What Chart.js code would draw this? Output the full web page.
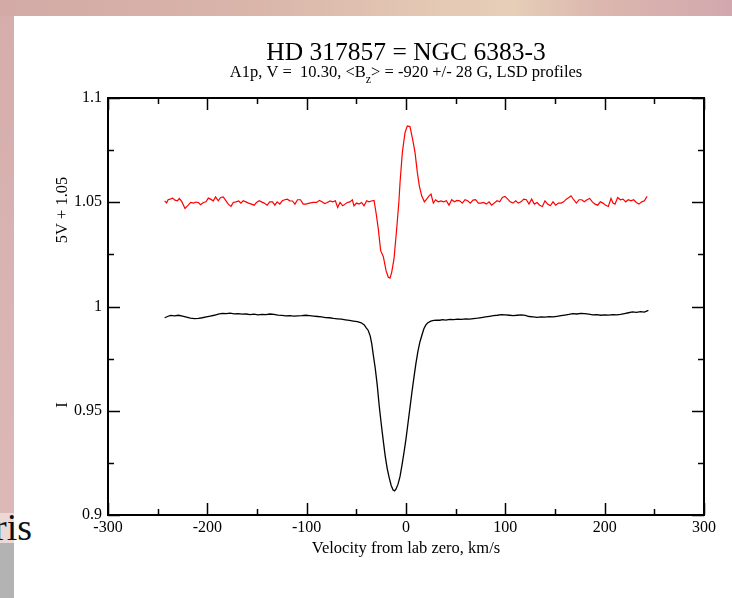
<!DOCTYPE html>
<html><head><meta charset="utf-8">
<script src="https://cdn.jsdelivr.net/npm/chart.js@4.4.0/dist/chart.umd.min.js"></script>
<style>
html,body{margin:0;padding:0;width:732px;height:598px;overflow:hidden;}
body{position:relative;background:linear-gradient(to bottom,#d5adab 0,#d9b4b2 300px,#dcb8b6 513px,#ead9d7 513px,#ead9d7 543px,#b3b3b3 543px,#b3b3b3 598px);}
#top{position:absolute;left:0;top:0;width:732px;height:16px;background:linear-gradient(to right,#d3aaa6 0%,#d9b5aa 35%,#e4c9b4 60%,#e6ceb8 70%,#dbb7ae 82%,#d2a8ae 100%);}
#risbox{position:absolute;left:0;top:505px;width:35px;height:44px;overflow:hidden;}
#ris{position:absolute;left:-6px;top:0;font-family:"Liberation Serif",serif;font-size:38px;color:#111;line-height:44px;}
#white{position:absolute;left:14px;top:16px;right:0;bottom:0;background:#fff;}
canvas{position:absolute;left:0;top:0;}
</style></head>
<body>
<div id="top"></div>
<div id="white"></div>
<div id="risbox"><div id="ris">ris</div></div>
<canvas id="c" width="732" height="598"></canvas>
<script>
// ---- data ----
const title = "HD 317857 = NGC 6383-3";
const subtitleA = "A1p, V =  10.30, <B";
const subtitleSub = "z";
const subtitleB = "> = -920 +/- 28 G, LSD profiles";
const xTitle = "Velocity from lab zero, km/s";
const yTitleTop = "5V + 1.05";
const yTitleBottom = "I";

const redVel = [-243,-241,-239.5,-237.6,-234.9,-232.6,-230.2,-228.2,-225.8,-222.5,-219.2,-216.8,-214.1,-211.5,-209.1,-206.8,-204.0,-201.4,-199.0,-196.7,-194.0,-191.7,-189.0,-186.6,-184.0,-181.2,-178.9,-176.2,-173.9,-171.2,-168.5,-166.2,-163.9,-161.2,-158.5,-155.5,-152.8,-150.5,-147.8,-145.5,-142.8,-139.8,-137.1,-134.4,-132.0,-129.7,-127.0,-124.6,-122.0,-119.6,-116.9,-114.3,-111.8,-109.2,-106.2,-103.5,-100.7,-97.3,-93.3,-90.0,-87.2,-84.6,-81.9,-79.2,-76.5,-73.8,-71.1,-68.8,-66.4,-63.7,-61.4,-59.1,-56.4,-54.0,-52.4,-49.7,-47.3,-44.6,-42.3,-39.6,-37.2,-34.9,-32.2,-30.2,-27.9,-25.5,-22.8,-20.1,-17.8,-16.1,-14.4,-12.1,-9.4,-7.2,-6.0,-3.7,-1.0,1.3,4.0,6.7,9.1,11.4,13.4,15.8,18.5,20.8,23.2,25.2,27.5,29.8,32.5,35.2,37.9,40.6,43.3,46.0,48.7,51.3,54.0,56.7,59.4,62.1,64.8,67.4,70.1,72.8,75.5,78.2,80.9,83.6,86.2,88.9,91.6,94.3,97.0,99.7,102.4,105.0,107.7,110.4,113.1,115.8,118.5,121.2,123.8,126.5,129.2,131.9,134.6,137.3,139.9,142.6,145.3,148.0,150.7,153.4,156.1,158.7,161.4,164.1,166.1,168.8,171.5,174.2,176.9,179.5,182.2,184.9,187.6,190.3,193.0,195.6,198.3,201.0,203.7,206.4,208.4,210.4,213.1,215.8,218.5,221.2,223.8,226.5,229.2,231.9,234.6,237.3,240.0,242.7];
const redVal = [1.0507,1.0497,1.0512,1.0515,1.0520,1.0510,1.0507,1.0518,1.0504,1.0470,1.0486,1.0499,1.0496,1.0501,1.0499,1.0488,1.0499,1.0502,1.0520,1.0515,1.0507,1.0526,1.0507,1.0523,1.0526,1.0507,1.0491,1.0480,1.0499,1.0502,1.0506,1.0496,1.0507,1.0502,1.0496,1.0491,1.0486,1.0499,1.0507,1.0502,1.0496,1.0486,1.0502,1.0502,1.0486,1.0502,1.0491,1.0507,1.0512,1.0515,1.0507,1.0506,1.0491,1.0512,1.0512,1.0491,1.0491,1.0496,1.0499,1.0499,1.0509,1.0502,1.0494,1.0499,1.0506,1.0502,1.0507,1.0475,1.0499,1.0483,1.0491,1.0499,1.0502,1.0512,1.0483,1.0496,1.0491,1.0499,1.0483,1.0507,1.0502,1.0506,1.0509,1.0451,1.0372,1.0268,1.0239,1.0172,1.0140,1.0136,1.0164,1.0228,1.0372,1.0500,1.0595,1.0738,1.0834,1.0866,1.0863,1.0802,1.0738,1.0643,1.0579,1.0531,1.0502,1.0515,1.0531,1.0539,1.0496,1.0512,1.0502,1.0506,1.0502,1.0507,1.0486,1.0512,1.0502,1.0509,1.0507,1.0496,1.0512,1.0507,1.0496,1.0510,1.0512,1.0496,1.0496,1.0499,1.0491,1.0502,1.0486,1.0496,1.0507,1.0502,1.0523,1.0528,1.0515,1.0502,1.0496,1.0507,1.0496,1.0502,1.0515,1.0512,1.0491,1.0515,1.0491,1.0499,1.0486,1.0480,1.0507,1.0491,1.0483,1.0502,1.0486,1.0496,1.0496,1.0502,1.0515,1.0523,1.0531,1.0512,1.0496,1.0512,1.0512,1.0502,1.0512,1.0518,1.0502,1.0491,1.0486,1.0502,1.0496,1.0486,1.0480,1.0518,1.0496,1.0491,1.0523,1.0512,1.0515,1.0502,1.0512,1.0507,1.0512,1.0499,1.0491,1.0502,1.0507,1.0528];

const blackVel = [-243,-240,-237,-233,-229,-225,-221,-217,-213,-209,-205,-201,-197,-193,-189,-185,-181,-177,-173,-169,-165,-161,-157,-153,-149,-145,-141,-137,-133,-129,-125,-121,-117,-113,-109,-105,-101,-97,-93,-89,-85,-81,-77,-73,-69,-65,-61,-57,-53,-49,-45,-42,-40,-38,-36,-34.5,-33,-31,-29,-27,-25,-23,-21,-19,-17,-15,-13,-11.5,-10,-8,-6,-4,-2,0,2,4,6,8,10,12,14,16,18,20,22,25,28,31,34,37,40,44,48,52,56,60,64,68,72,76,80,84,88,92,96,100,104,108,112,116,120,124,128,132,136,140,144,148,152,156,160,164,168,172,176,180,184,188,192,196,200,204,208,212,216,220,224,228,232,236,240,244];
const blackVal = [0.9946,0.9952,0.9957,0.9955,0.9958,0.9954,0.9949,0.9944,0.9942,0.9943,0.9946,0.9950,0.9954,0.9958,0.9963,0.9967,0.9966,0.9968,0.9965,0.9966,0.9963,0.9964,0.9961,0.9963,0.9960,0.9962,0.9961,0.9964,0.9962,0.9959,0.9957,0.9955,0.9956,0.9954,0.9955,0.9956,0.9958,0.9956,0.9954,0.9952,0.9950,0.9947,0.9946,0.9943,0.9941,0.9939,0.9936,0.9933,0.9930,0.9927,0.9922,0.9912,0.9898,0.9885,0.9858,0.9822,0.9770,0.9705,0.9625,0.9525,0.9440,0.9360,0.9285,0.9225,0.9180,0.9143,0.9120,0.9116,0.9125,0.9148,0.9185,0.9240,0.9300,0.9365,0.9440,0.9515,0.9590,0.9660,0.9727,0.9785,0.9830,0.9862,0.9893,0.9912,0.9922,0.9930,0.9933,0.9935,0.9934,0.9937,0.9935,0.9938,0.9937,0.9939,0.9938,0.9941,0.9939,0.9942,0.9944,0.9947,0.9950,0.9953,0.9956,0.9958,0.9961,0.9960,0.9958,0.9956,0.9958,0.9960,0.9957,0.9952,0.9950,0.9948,0.9950,0.9949,0.9951,0.9950,0.9953,0.9956,0.9959,0.9962,0.9966,0.9964,0.9967,0.9966,0.9963,0.9960,0.9961,0.9958,0.9960,0.9959,0.9961,0.9960,0.9962,0.9966,0.9970,0.9974,0.9972,0.9975,0.9973,0.9981];

const xMin = -300, xMax = 300, xStep = 100;
const yMin = 0.9, yMax = 1.1, yStep = 0.05;

const serif = '"Liberation Serif", "Times New Roman", serif';

const decor = {
  id: 'decor',
  afterDraw(chart) {
    const {ctx, chartArea: a, scales: {x, y}} = chart;
    ctx.save();
    ctx.strokeStyle = '#000';
    ctx.lineWidth = 1.5;
    const line = (x1, y1, x2, y2) => { ctx.beginPath(); ctx.moveTo(x1, y1); ctx.lineTo(x2, y2); ctx.stroke(); };
    const xv = x.ticks.map(t => t.value);
    const yv = y.ticks.map(t => t.value);
    const MAJ = 12, MIN = 6;
    xv.forEach((v, i) => {
      const p = Math.round(x.getPixelForValue(v)) + 0.5;
      line(p, a.bottom, p, a.bottom - MAJ);
      line(p, a.top, p, a.top + MAJ);
      if (i < xv.length - 1) {
        const m = Math.round(x.getPixelForValue((v + xv[i + 1]) / 2)) + 0.5;
        line(m, a.bottom, m, a.bottom - MIN);
        line(m, a.top, m, a.top + MIN);
      }
    });
    yv.forEach((v, i) => {
      const p = Math.round(y.getPixelForValue(v)) + 0.5;
      line(a.left, p, a.left + MAJ, p);
      line(a.right, p, a.right - MAJ, p);
      if (i < yv.length - 1) {
        const m = Math.round(y.getPixelForValue((v + yv[i + 1]) / 2)) + 0.5;
        line(a.left, m, a.left + MIN, m);
        line(a.right, m, a.right - MIN, m);
      }
    });
    ctx.lineWidth = 2;
    ctx.strokeRect(a.left, a.top, a.right - a.left, a.bottom - a.top);

    ctx.fillStyle = '#000';
    const cx = (a.left + a.right) / 2;
    ctx.textBaseline = 'alphabetic';
    ctx.textAlign = 'center';
    ctx.font = '25.5px ' + serif;
    ctx.fillText(title, cx, 60);
    // subtitle with subscript
    ctx.textAlign = 'left';
    ctx.font = '16.5px ' + serif;
    const w1 = ctx.measureText(subtitleA).width;
    const w3 = ctx.measureText(subtitleB).width;
    ctx.font = '12px ' + serif;
    const w2 = ctx.measureText(subtitleSub).width;
    let sx = cx - (w1 + w2 + w3) / 2;
    ctx.font = '16.5px ' + serif;
    ctx.fillText(subtitleA, sx, 77);
    ctx.font = '12px ' + serif;
    ctx.fillText(subtitleSub, sx + w1, 83);
    ctx.font = '16.5px ' + serif;
    ctx.fillText(subtitleB, sx + w1 + w2, 77);

    ctx.textAlign = 'center';
    ctx.font = '16.5px ' + serif;
    ctx.fillText(xTitle, cx, 553);

    ctx.save();
    ctx.translate(67, 210);
    ctx.rotate(-Math.PI / 2);
    ctx.fillText(yTitleTop, 0, 0);
    ctx.restore();
    ctx.save();
    ctx.translate(67, 405);
    ctx.rotate(-Math.PI / 2);
    ctx.fillText(yTitleBottom, 0, 0);
    ctx.restore();
    ctx.restore();
  }
};

const toPts = (xs, ys) => xs.map((v, i) => ({x: v, y: ys[i]}));

new Chart(document.getElementById('c'), {
  type: 'line',
  data: {
    datasets: [
      {label: '5V + 1.05', data: toPts(redVel, redVal), borderColor: '#ff0000', borderWidth: 1.2, pointRadius: 0, tension: 0, fill: false},
      {label: 'I', data: toPts(blackVel, blackVal), borderColor: '#000000', borderWidth: 1.3, pointRadius: 0, tension: 0, fill: false}
    ]
  },
  options: {
    responsive: false,
    animation: false,
    layout: {padding: {left: 0, top: 98, right: 28, bottom: 0}},
    plugins: {legend: {display: false}, tooltip: {enabled: false}},
    scales: {
      x: {
        type: 'linear', min: xMin, max: xMax,
        ticks: {stepSize: xStep, color: '#000', font: {family: serif, size: 16}, padding: 3, maxRotation: 0},
        grid: {display: false, drawTicks: false},
        border: {display: false},
        afterFit: s => { s.height = 83; }
      },
      y: {
        type: 'linear', min: yMin, max: yMax,
        ticks: {stepSize: yStep, color: '#000', font: {family: serif, size: 16}, padding: 6,
          callback: v => String(+v.toFixed(3))},
        grid: {display: false, drawTicks: false},
        border: {display: false},
        afterFit: s => { s.width = 108; }
      }
    }
  },
  plugins: [decor]
});
</script>
</body></html>
